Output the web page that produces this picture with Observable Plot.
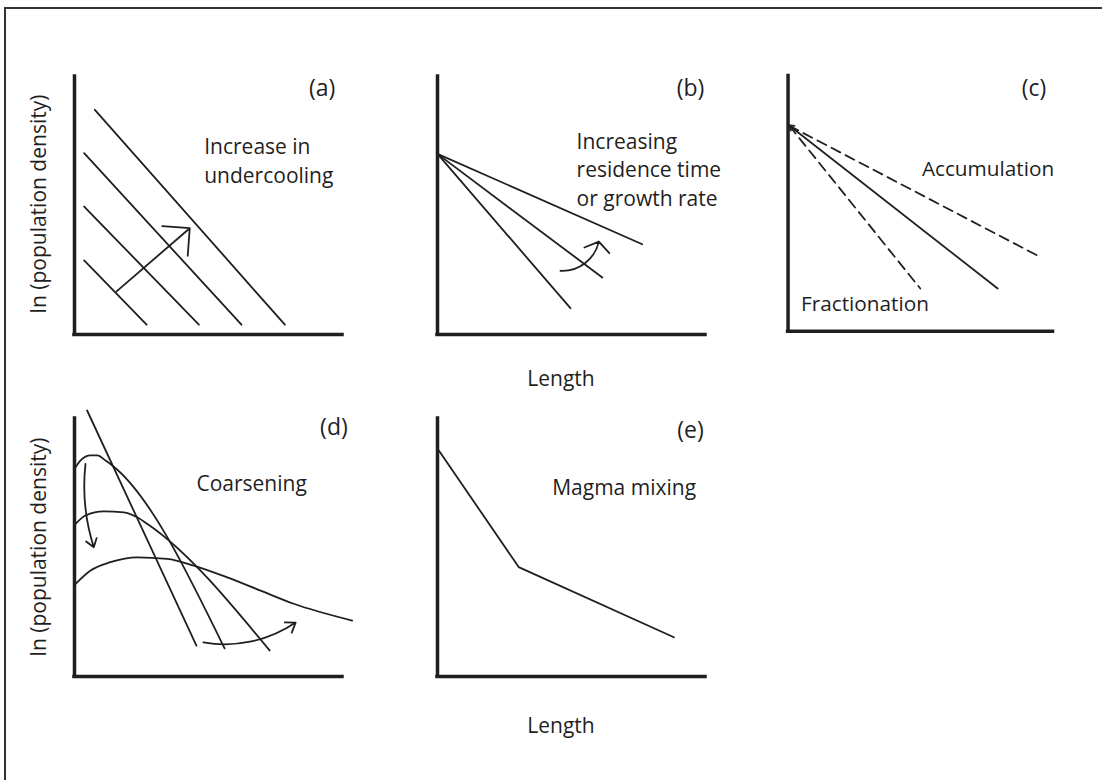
<!DOCTYPE html>
<html>
<head>
<meta charset="utf-8">
<script src="https://cdn.jsdelivr.net/npm/d3@7"></script>
<script src="https://cdn.jsdelivr.net/npm/@observablehq/plot@0.6"></script>
<style>
  body { margin: 0; background: #fff; }
  #fig { position: relative; width: 1102px; height: 780px; overflow: hidden;
         font-family: "Open Sans", sans-serif; color: #1f1f1f; }
  #frame { position: absolute; left: 4px; top: 7px; right: -10px; bottom: -10px;
           border-top: 2px solid #333; border-left: 2px solid #333; }
  .panel { position: absolute; }
  .lab { position: absolute; font-size: 21px; white-space: nowrap; line-height: 1; }
  .ylab { transform: translate(-50%, -50%) rotate(-90deg); }
  .xlab { transform: translate(-50%, -50%); }
</style>
</head>
<body>
<div id="fig"><div id="frame"></div></div>
<script>
// Schematic crystal size distributions, ln(population density) vs length.
// Every panel uses abstract units 0–10 on both axes.

// (a) parallel CSDs shifting with undercooling
const aLines = [
  {id: 1, x: 0.76, y: 8.71}, {id: 1, x: 7.85, y: 0.38},
  {id: 2, x: 0.36, y: 7.03}, {id: 2, x: 6.23, y: 0.38},
  {id: 3, x: 0.36, y: 4.96}, {id: 3, x: 4.64, y: 0.38},
  {id: 4, x: 0.36, y: 2.87}, {id: 4, x: 2.69, y: 0.38}
];
const aArrow = [{x1: 1.57, y1: 1.67, x2: 4.30, y2: 4.12}];
const aLabels = [
  {x: 9.24, y: 9.62, t: "(a)", anchor: "middle", size: 23},
  {x: 4.84, y: 6.78, t: "Increase in\nundercooling", anchor: "start", size: 21}
];

// (b) CSDs pivoting about a common intercept
const bLines = [
  {id: 1, x: 0, y: 7.0}, {id: 1, x: 7.64, y: 3.50},
  {id: 2, x: 0, y: 7.0}, {id: 2, x: 6.15, y: 2.21},
  {id: 3, x: 0, y: 7.0}, {id: 3, x: 4.96, y: 1.02}
];
const bArrow = [{x1: 4.59, y1: 2.47, x2: 6.02, y2: 3.60}];
const bLabels = [
  {x: 9.44, y: 9.62, t: "(b)", anchor: "middle", size: 23},
  {x: 5.19, y: 6.45, t: "Increasing\nresidence time\nor growth rate", anchor: "start", size: 21}
];

// (c) accumulation and fractionation about a reference CSD
const cSolid = [{x1: 7.91, y1: 1.67, x2: 0.02, y2: 8.08}];
const cDashed = [
  {id: "accumulation", x: 0.05, y: 8.05}, {id: "accumulation", x: 9.53, y: 2.90},
  {id: "fractionation", x: 0.05, y: 8.05}, {id: "fractionation", x: 4.99, y: 1.67}
];
const cLabels = [
  {x: 9.28, y: 9.62, t: "(c)", anchor: "middle", size: 23},
  {x: 5.05, y: 6.45, t: "Accumulation", anchor: "start", size: 21},
  {x: 0.49, y: 1.15, t: "Fractionation", anchor: "start", size: 21}
];

// (d) coarsening: humped distributions flattening with time
const dLine = [{x: 0.47, y: 10.31}, {x: 4.55, y: 1.20}];
const dCurves = [
  {id: 1, x: 0.04, y: 8.11}, {id: 1, x: 0.22, y: 8.37}, {id: 1, x: 0.60, y: 8.57},
  {id: 1, x: 0.85, y: 8.57}, {id: 1, x: 1.16, y: 8.37}, {id: 1, x: 1.41, y: 8.18},
  {id: 1, x: 5.60, y: 1.09},
  {id: 2, x: 0.04, y: 5.92}, {id: 2, x: 0.41, y: 6.24}, {id: 2, x: 1.09, y: 6.40},
  {id: 2, x: 1.84, y: 6.36}, {id: 2, x: 2.34, y: 6.17}, {id: 2, x: 2.71, y: 5.92},
  {id: 2, x: 7.28, y: 1.01},
  {id: 3, x: 0.04, y: 3.59}, {id: 3, x: 0.60, y: 4.11}, {id: 3, x: 1.34, y: 4.43},
  {id: 3, x: 2.34, y: 4.62}, {id: 3, x: 3.46, y: 4.56}, {id: 3, x: 4.45, y: 4.30},
  {id: 3, x: 5.70, y: 3.84}, {id: 3, x: 6.94, y: 3.33}, {id: 3, x: 8.18, y: 2.82},
  {id: 3, x: 10.36, y: 2.17}
];
const dArrowDown = [{x1: 0.41, y1: 8.24, x2: 0.72, y2: 5.01}];
const dArrowRight = [{x1: 4.81, y1: 1.32, x2: 8.25, y2: 2.09}];
const dLabels = [
  {x: 9.68, y: 9.73, t: "(d)", anchor: "middle", size: 23},
  {x: 4.55, y: 7.53, t: "Coarsening", anchor: "start", size: 21}
];

// (e) kinked CSD from mixing of two populations
const eLine = [{x: 0.05, y: 8.76}, {x: 3.03, y: 4.24}, {x: 8.82, y: 1.52}];
const eLabels = [
  {x: 9.44, y: 9.62, t: "(e)", anchor: "middle", size: 23},
  {x: 4.28, y: 7.40, t: "Magma mixing", anchor: "start", size: 21}
];

// shared axis titles
const yTitle = "ln (population density)";
const xTitle = "Length";

const INK = "#1f1f1f";
const W = 268, H = 258;
const M = {top: 40, right: 50, bottom: 20, left: 40};
const fig = document.getElementById("fig");

function labels(rows) {
  return ["start", "middle"].map(a =>
    Plot.text(rows.filter(d => d.anchor === a), {
      x: "x", y: "y", text: "t", fontSize: "size", textAnchor: a, lineAnchor: "middle",
      lineHeight: 1.35, fill: INK
    }));
}

function panel(left, top, marks) {
  const svg = Plot.plot({
    width: W + M.left + M.right,
    height: H + M.top + M.bottom,
    marginTop: M.top, marginRight: M.right, marginBottom: M.bottom, marginLeft: M.left,
    x: {domain: [0, 10], axis: null},
    y: {domain: [0, 10], axis: null},
    style: {background: "transparent", overflow: "visible",
            fontFamily: "'Open Sans', sans-serif", color: INK},
    marks: [
      Plot.ruleX([0], {stroke: INK, strokeWidth: 3.5, strokeLinecap: "square"}),
      Plot.ruleY([0], {stroke: INK, strokeWidth: 3.5, strokeLinecap: "square"}),
      ...marks
    ]
  });
  const div = document.createElement("div");
  div.className = "panel";
  div.style.left = (left - M.left) + "px";
  div.style.top = (top - M.top) + "px";
  div.appendChild(svg);
  fig.appendChild(div);
}

const lineStyle = {stroke: INK, strokeWidth: 1.8};
const ends = {x1: "x1", y1: "y1", x2: "x2", y2: "y2"};

panel(74, 76, [
  Plot.line(aLines, {x: "x", y: "y", z: "id", ...lineStyle}),
  Plot.arrow(aArrow, {...ends, headAngle: 90, headLength: 23, ...lineStyle}),
  ...labels(aLabels)
]);

panel(437, 76, [
  Plot.line(bLines, {x: "x", y: "y", z: "id", ...lineStyle}),
  Plot.arrow(bArrow, {...ends, bend: -40, headAngle: 110, headLength: 13, ...lineStyle}),
  ...labels(bLabels)
]);

panel(788, 76, [
  Plot.line(cDashed, {x: "x", y: "y", z: "id", strokeDasharray: "10,6", ...lineStyle}),
  Plot.arrow(cSolid, {...ends, headAngle: 60, headLength: 5, ...lineStyle}),
  ...labels(cLabels)
]);

panel(74, 418, [
  Plot.line(dLine, {x: "x", y: "y", ...lineStyle}),
  Plot.line(dCurves, {x: "x", y: "y", z: "id", curve: "monotone-x", ...lineStyle}),
  Plot.arrow(dArrowDown, {...ends, bend: -12, headAngle: 70, headLength: 8, ...lineStyle}),
  Plot.arrow(dArrowRight, {...ends, bend: -22, headAngle: 70, headLength: 9, ...lineStyle}),
  ...labels(dLabels)
]);

panel(437, 418, [
  Plot.line(eLine, {x: "x", y: "y", ...lineStyle}),
  ...labels(eLabels)
]);

function title(text, x, y, cls) {
  const s = document.createElement("div");
  s.className = "lab " + cls;
  s.style.left = x + "px";
  s.style.top = y + "px";
  s.textContent = text;
  fig.appendChild(s);
}
title(yTitle, 38, 204, "ylab");
title(yTitle, 38, 547, "ylab");
title(xTitle, 561, 378, "xlab");
title(xTitle, 561, 725, "xlab");
</script>
</body>
</html>
